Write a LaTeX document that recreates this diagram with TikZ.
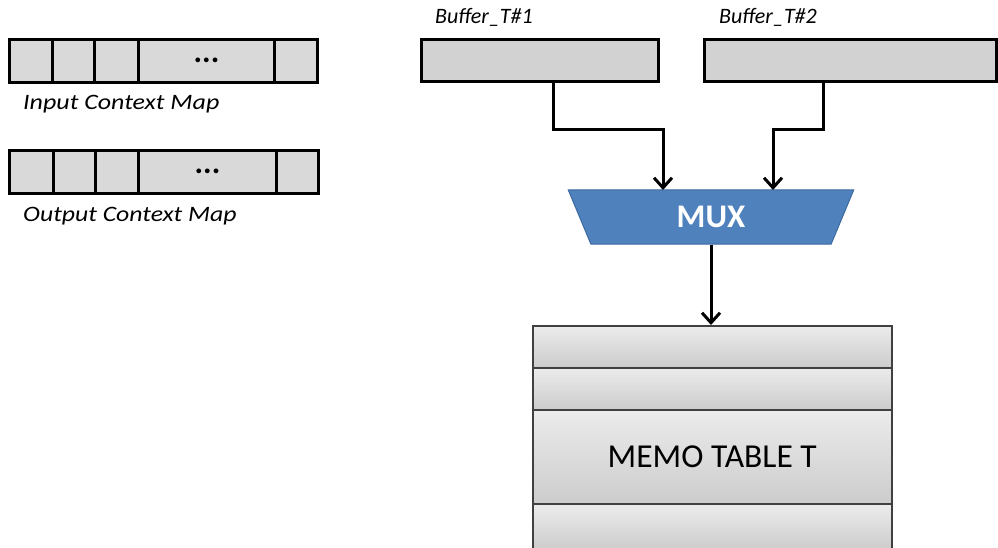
\documentclass[tikz,border=0pt]{standalone}
\usepackage{fontspec}
\setmainfont{Carlito}
\usetikzlibrary{arrows.meta,shapes.geometric,calc}
\definecolor{cellgray}{HTML}{D9D9D9}
\definecolor{bufgray}{HTML}{D2D2D2}
\definecolor{muxblue}{HTML}{4F81BD}
\definecolor{muxedge}{HTML}{3C6AA0}
\begin{document}
\begin{tikzpicture}[x=1pt,y=-1pt,
  cell/.style={draw=black, line width=3pt, fill=cellgray, minimum height=43pt, inner sep=0pt, anchor=north west},
  buf/.style={draw=black, line width=3pt, fill=bufgray, minimum height=42pt, inner sep=0pt, anchor=north west},
  lbl/.style={font=\fontsize{22}{24}\selectfont\itshape, anchor=west, inner sep=0pt},
  dots/.style={font=\fontsize{32}{32}\selectfont\bfseries},
  arr/.style={line width=3pt, -{Straight Barb[length=10pt,width=18pt,line width=3pt]}},
  row/.style={draw=black!75, line width=1.5pt, top color=gray!15, bottom color=gray!40, minimum width=359pt, inner sep=0pt, anchor=north west}
]
\useasboundingbox (0,0) rectangle (998,548);
\clip (0,0) rectangle (998,548);
% Input context map
\node[cell, minimum width=44pt] (i1) at (8,38) {};
\node[cell, minimum width=42pt] (i2) at (51,38) {};
\node[cell, minimum width=44pt] (i3) at (93,38) {};
\node[cell, minimum width=136pt] (i4) at (137,38) {};
\node[dots] (i4d) at ([yshift=1pt]i4.center) {...};
\node[cell, minimum width=43pt] (i5) at (273,38) {};
\node[lbl] (il) at (23,104) {\scalebox{1.18}[1]{Input Context Map}};
% Output context map
\node[cell, minimum width=44pt] (o1) at (8,149) {};
\node[cell, minimum width=42pt] (o2) at (52,149) {};
\node[cell, minimum width=43pt] (o3) at (94,149) {};
\node[cell, minimum width=138pt] (o4) at (137,149) {};
\node[dots] (o4d) at ([yshift=1pt]o4.center) {...};
\node[cell, minimum width=42pt] (o5) at (275,149) {};
\node[lbl] (ol) at (23,216) {\scalebox{1.17}[1]{Output Context Map}};
% Buffers
\node[buf, minimum width=237pt] (b1) at (420,38) {};
\node[buf, minimum width=292pt] (b2) at (703,38) {};
\node[lbl] (b1l) at (435,17) {Buffer\_T\#1};
\node[lbl] (b2l) at (719,17) {Buffer\_T\#2};
% MUX
\node[trapezium, trapezium stretches=true, shape border rotate=180,
  trapezium left angle=76, trapezium right angle=76,
  minimum width=288pt, minimum height=54pt, fill=muxblue, draw=muxedge, line width=1pt,
  text=white, font=\fontsize{33}{33}\selectfont\bfseries] (mux) at (711,217) {MUX};
% Memo table
\node[row, minimum height=42pt] (m1) at (532,325) {};
\node[row, minimum height=42pt] (m2) at (532,367) {};
\node[row, minimum height=94pt, font=\fontsize{33.5}{34}\selectfont] (m3) at (532,409) {MEMO TABLE T};
\node[row, minimum height=46pt] (m4) at (532,503) {};
% connectors
\coordinate (j1) at (553,130);
\coordinate (j2) at (823,130);
\coordinate (t1) at (663,190);
\coordinate (t2) at (773,190);
\draw[arr] (b1.south -| j1) -- (j1) -| (t1);
\draw[arr] (b2.south -| j2) -- (j2) -| (t2);
\draw[arr] (mux.south) -- (m1.north -| mux.south);
\end{tikzpicture}
\end{document}
